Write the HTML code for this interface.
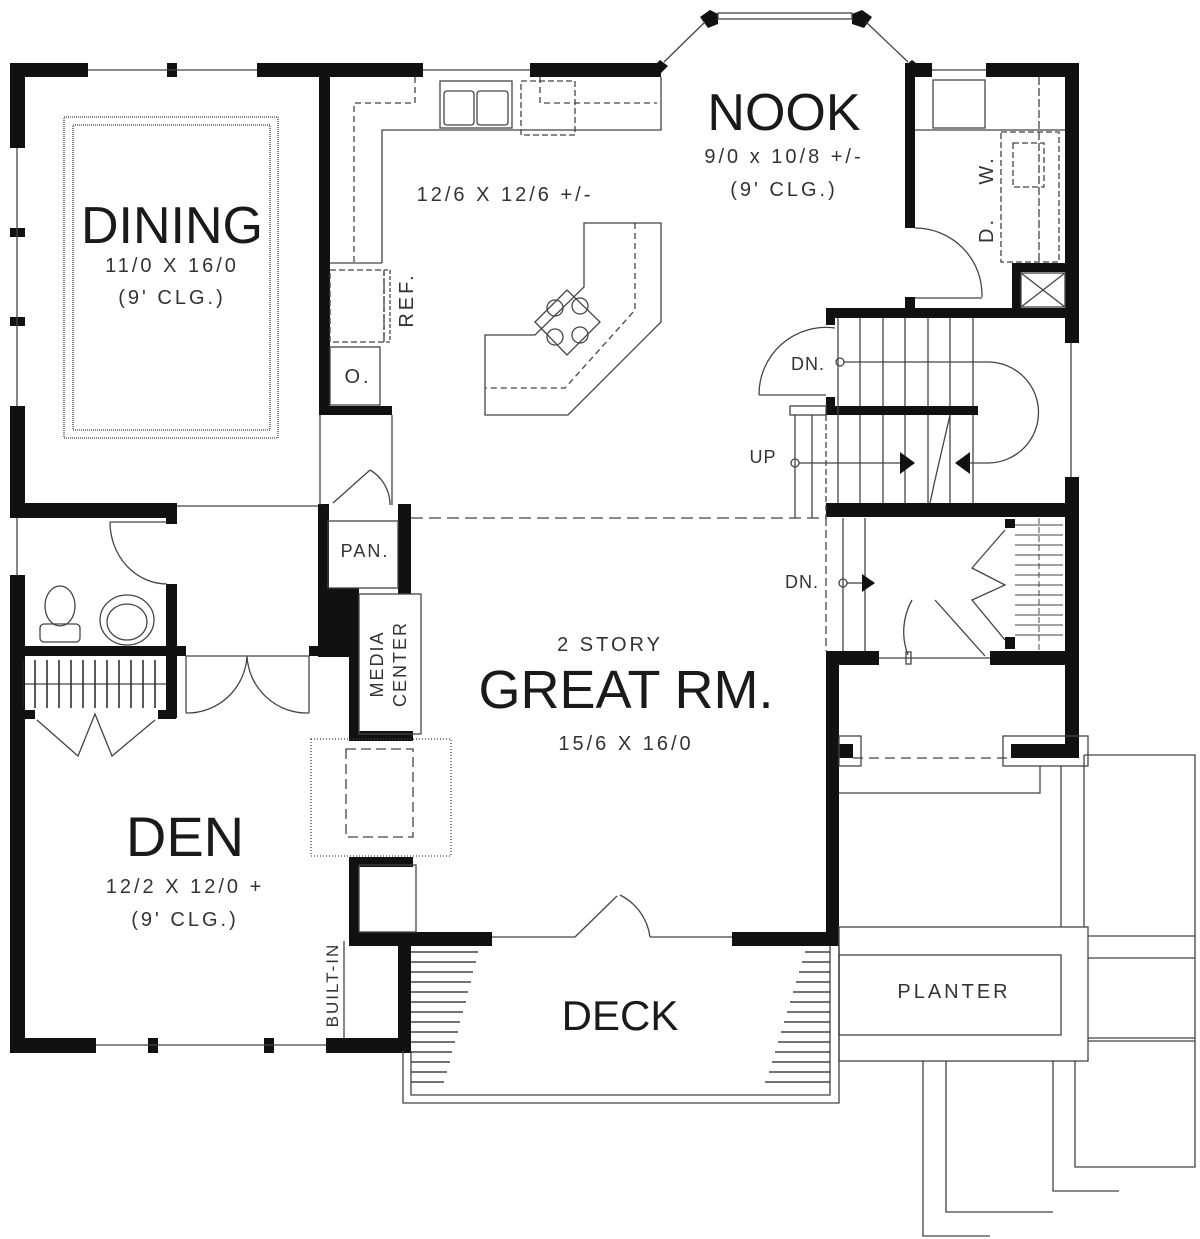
<!DOCTYPE html>
<html><head><meta charset="utf-8"><style>
html,body{margin:0;padding:0;background:#fff;}
svg{display:block}
text{font-family:"Liberation Sans",sans-serif;fill:#1a1a1a}
.s{font-size:20px;letter-spacing:3px;fill:#333}
.b{font-size:52px}
</style></head><body>
<svg width="1200" height="1239" viewBox="0 0 1200 1239" xmlns="http://www.w3.org/2000/svg">
<g fill="#111">
<!-- dining walls -->
<rect x="10" y="63" width="78" height="14"/><rect x="167" y="63" width="10" height="14"/>
<rect x="257" y="63" width="166" height="14"/><rect x="530" y="63" width="131" height="14"/>
<rect x="10" y="63" width="15" height="85"/><rect x="10" y="228" width="15" height="9"/><rect x="10" y="317" width="15" height="9"/>
<rect x="10" y="406" width="15" height="112"/>
<rect x="319" y="77" width="11" height="338"/><rect x="319" y="406" width="73" height="9"/>
<!-- nook -->
<polygon points="700,17 710,10 718,14 718,24 708,28"/><polygon points="852,14 862,10 872,17 864,28 852,24"/>
<polygon points="654,66 660,60 668,66 660,74"/><polygon points="905,66 912,60 920,66"/>
<rect x="905" y="63" width="27" height="14"/><rect x="905" y="63" width="10" height="165"/>
<rect x="986" y="63" width="93" height="14"/><rect x="1065" y="63" width="14" height="280"/>
<rect x="1012" y="263" width="9" height="50"/><rect x="1012" y="263" width="53" height="9"/>
<rect x="826" y="308" width="253" height="10"/><rect x="826" y="308" width="9" height="17"/>
<rect x="905" y="297" width="10" height="12"/>
<rect x="826" y="397" width="9" height="18"/><rect x="826" y="406" width="152" height="9"/>
<rect x="826" y="503" width="253" height="14"/><rect x="1065" y="477" width="14" height="281"/>
<rect x="826" y="651" width="53" height="14"/><rect x="990" y="651" width="89" height="14"/>
<rect x="1005" y="519" width="10" height="9"/><rect x="1005" y="637" width="10" height="12"/>
<rect x="826" y="651" width="13" height="295"/><rect x="732" y="932" width="107" height="14"/>
<rect x="839" y="744" width="14" height="14"/><rect x="1011" y="744" width="68" height="14"/>
<!-- den/bath -->
<rect x="10" y="503" width="167" height="15"/><rect x="166" y="503" width="11" height="21"/>
<rect x="10" y="575" width="15" height="478"/><rect x="10" y="646" width="176" height="10"/>
<rect x="166" y="584" width="11" height="134"/><rect x="25" y="710" width="10" height="9"/><rect x="158" y="710" width="18" height="9"/>
<rect x="10" y="1038" width="86" height="15"/><rect x="148" y="1038" width="10" height="15"/><rect x="264" y="1038" width="10" height="15"/>
<rect x="326" y="1038" width="85" height="15"/><rect x="398" y="946" width="13" height="105"/>
<rect x="309" y="646" width="40" height="10"/>
<rect x="318" y="504" width="11" height="153"/><polygon points="329,588 359,588 359,657 329,657"/>
<rect x="398" y="504" width="13" height="90"/><rect x="349" y="594" width="10" height="146"/>
<rect x="349" y="731" width="64" height="10"/><rect x="349" y="857" width="64" height="10"/>
<rect x="349" y="865" width="10" height="81"/><rect x="349" y="932" width="143" height="14"/>
</g>
<g fill="none" stroke="#444" stroke-width="1.3">
<!-- windows -->
<line x1="88" y1="70" x2="257" y2="70"/><line x1="423" y1="70" x2="530" y2="70"/><line x1="932" y1="70" x2="986" y2="70"/>
<line x1="17" y1="148" x2="17" y2="406"/><line x1="17" y1="518" x2="17" y2="575"/>
<line x1="96" y1="1045" x2="326" y2="1045"/>
<line x1="664" y1="62" x2="705" y2="22"/><line x1="908" y1="62" x2="866" y2="22"/>
<rect x="718" y="13" width="134" height="6"/>
<!-- dining tray -->
<rect x="64" y="117" width="214" height="321" stroke-dasharray="1 1"/><rect x="73" y="125" width="197" height="305" stroke-dasharray="1 1"/>
<!-- kitchen -->
<polyline points="415,77 415,103 354,103 354,263" stroke-dasharray="6 4"/>
<polyline points="540,77 540,103 657,103" stroke-dasharray="6 4"/>
<polyline points="382,263 382,130 661,130 661,77"/>
<line x1="330" y1="263" x2="382" y2="263"/>
<rect x="440" y="81" width="72" height="47"/><rect x="444" y="91" width="30" height="34" rx="3"/><rect x="477" y="91" width="31" height="34" rx="3"/>
<rect x="521" y="81" width="54" height="54" stroke-dasharray="6 3"/>
<rect x="330" y="270" width="54" height="72" stroke-dasharray="6 3"/><rect x="384" y="270" width="6" height="72" stroke-dasharray="4 2"/>
<rect x="330" y="347" width="50" height="58"/>
<polygon points="584,223 661,223 661,322 568,415 485,415 485,335 535,335 584,287"/>
<polyline points="635,223 635,310 565,388 485,388" stroke-dasharray="6 4"/>
<polygon points="535,322 567,290 600,322 567,355"/>
<circle cx="555" cy="308" r="8"/><circle cx="580" cy="306" r="8"/><circle cx="555" cy="337" r="8"/><circle cx="580" cy="335" r="8"/>
<line x1="392" y1="415" x2="392" y2="505"/><line x1="320" y1="415" x2="320" y2="505"/>
<line x1="177" y1="506" x2="318" y2="506"/>
<!-- nook utility -->
<rect x="933" y="80" width="52" height="48"/><line x1="915" y1="130" x2="1065" y2="130"/>
<rect x="1001" y="132" width="58" height="130" stroke-dasharray="6 3"/><line x1="1039" y1="77" x2="1039" y2="262" stroke-dasharray="8 3"/>
<rect x="1013" y="143" width="31" height="44" stroke-dasharray="6 3"/>
<rect x="1021" y="273" width="44" height="34"/><line x1="1021" y1="273" x2="1065" y2="307"/><line x1="1065" y1="273" x2="1021" y2="307"/>
<path d="M915,228 A67,67 0 0 1 982,297"/><line x1="915" y1="298" x2="982" y2="298"/>
<!-- stairs -->
<path d="M835,328 A67,67 0 0 0 759,395"/><line x1="759" y1="395" x2="826" y2="395"/>
<g><line x1="838" y1="318" x2="838" y2="503"/><line x1="860" y1="318" x2="860" y2="406"/><line x1="883" y1="318" x2="883" y2="406"/><line x1="905" y1="318" x2="905" y2="406"/><line x1="928" y1="318" x2="928" y2="406"/><line x1="950" y1="318" x2="950" y2="406"/><line x1="973" y1="318" x2="973" y2="406"/>
<line x1="860" y1="415" x2="860" y2="503"/><line x1="883" y1="415" x2="883" y2="503"/><line x1="905" y1="415" x2="905" y2="503"/><line x1="928" y1="415" x2="928" y2="503"/><line x1="950" y1="415" x2="950" y2="503"/><line x1="973" y1="415" x2="973" y2="503"/>
<line x1="795" y1="415" x2="795" y2="518"/><line x1="812" y1="415" x2="812" y2="518"/><rect x="790" y="406" width="36" height="9"/>
<line x1="826" y1="415" x2="826" y2="518" stroke-dasharray="6 3"/>
<line x1="1071" y1="343" x2="1071" y2="477"/>
<polyline points="950,415 935,480 930,503"/></g>
<circle cx="840" cy="362" r="4"/><path d="M844,362 H988 A50,50 0 0 1 988,463 H965"/>
<circle cx="795" cy="463" r="4"/><line x1="799" y1="463" x2="905" y2="463"/>
<line x1="411" y1="518" x2="826" y2="518" stroke-dasharray="12 6"/>
<line x1="826" y1="518" x2="826" y2="651" stroke-dasharray="8 4"/>
<line x1="843" y1="518" x2="843" y2="651"/><line x1="865" y1="518" x2="865" y2="651"/>
<circle cx="843" cy="583" r="4"/><line x1="847" y1="583" x2="862" y2="583"/>
<!-- closet -->
<g stroke-width="1"><line x1="1015" y1="525" x2="1063" y2="525"/><line x1="1015" y1="535" x2="1063" y2="535"/><line x1="1015" y1="545" x2="1063" y2="545"/><line x1="1015" y1="555" x2="1063" y2="555"/><line x1="1015" y1="565" x2="1063" y2="565"/><line x1="1015" y1="575" x2="1063" y2="575"/><line x1="1015" y1="585" x2="1063" y2="585"/><line x1="1015" y1="595" x2="1063" y2="595"/><line x1="1015" y1="605" x2="1063" y2="605"/><line x1="1015" y1="615" x2="1063" y2="615"/><line x1="1015" y1="625" x2="1063" y2="625"/><line x1="1015" y1="635" x2="1063" y2="635"/><line x1="1039" y1="518" x2="1039" y2="651" stroke-dasharray="6 3"/></g>
<polyline points="1005,530 972,568 1005,585 972,600 1005,640"/>
<path d="M912,600 A65,65 0 0 0 908,655"/><line x1="935" y1="600" x2="985" y2="656"/>
<line x1="879" y1="658" x2="990" y2="658"/><rect x="906" y="652" width="5" height="12"/>
<!-- annex & exterior -->
<line x1="853" y1="758" x2="1011" y2="758" stroke-dasharray="10 6"/>
<rect x="839" y="736" width="22" height="30"/><rect x="1003" y="736" width="85" height="30"/>
<polyline points="839,793 1040,793 1040,766"/>
<line x1="1061" y1="766" x2="1061" y2="927"/><line x1="1084" y1="755" x2="1084" y2="927"/>
<polyline points="1084,755 1195,755 1195,1167 1075,1167 1075,1061"/>
<rect x="839" y="927" width="249" height="134"/><rect x="839" y="955" width="222" height="80"/>
<line x1="1088" y1="936" x2="1195" y2="936"/><line x1="1088" y1="958" x2="1195" y2="958"/><line x1="1088" y1="1038" x2="1195" y2="1038"/><line x1="1088" y1="1041" x2="1195" y2="1041"/>
<polyline points="923,1061 923,1236 990,1236"/><polyline points="946,1061 946,1212 1053,1212"/><polyline points="1053,1061 1053,1191 1119,1191"/>
<!-- deck -->
<polyline points="403,1051 403,1103 839,1103 839,946"/><polyline points="411,1051 411,1095 830,1095 830,946"/>
<line x1="492" y1="937" x2="575" y2="937"/><line x1="650" y1="937" x2="732" y2="937"/>
<line x1="575" y1="937" x2="617" y2="896"/><path d="M620,895 A55,55 0 0 1 650,937"/>
<!-- den/bath fixtures -->
<path d="M110,522 H167 M110,522 A57,62 0 0 0 167,584"/>
<ellipse cx="60" cy="606" rx="15" ry="20"/><rect x="40" y="624" width="40" height="18" rx="4"/>
<ellipse cx="127" cy="620" rx="27" ry="25"/><ellipse cx="127" cy="622" rx="20" ry="18"/>
<line x1="186" y1="656" x2="186" y2="713"/><line x1="309" y1="656" x2="309" y2="713"/>
<path d="M186,713 A60,60 0 0 0 247,656 A60,60 0 0 0 309,713"/><line x1="186" y1="656" x2="309" y2="656"/>
<polyline points="37,720 78,756 95,714 112,756 155,720"/>
<line x1="25" y1="684" x2="166" y2="684"/>
<rect x="328" y="521" width="70" height="67"/><rect x="359" y="594" width="62" height="140"/>
<rect x="311" y="739" width="140" height="117" stroke-dasharray="1 2"/>
<rect x="346" y="749" width="67" height="88" stroke-dasharray="10 5"/>
<rect x="359" y="865" width="57" height="67"/><line x1="344" y1="941" x2="344" y2="1038"/>
<path d="M333,503 L370,470 M370,470 A40,40 0 0 1 390,505"/>
</g>
<g stroke="#222" stroke-width="1.5">
<line x1="23" y1="660" x2="23" y2="708"/><line x1="35" y1="660" x2="35" y2="708"/><line x1="47" y1="660" x2="47" y2="708"/><line x1="59" y1="660" x2="59" y2="708"/><line x1="71" y1="660" x2="71" y2="708"/><line x1="83" y1="660" x2="83" y2="708"/><line x1="95" y1="660" x2="95" y2="708"/><line x1="107" y1="660" x2="107" y2="708"/><line x1="119" y1="660" x2="119" y2="708"/><line x1="131" y1="660" x2="131" y2="708"/><line x1="143" y1="660" x2="143" y2="708"/><line x1="155" y1="660" x2="155" y2="708"/>
</g>
<g stroke="#222" stroke-width="1.3">
<line x1="411" y1="952" x2="478" y2="952"/><line x1="411" y1="962" x2="476" y2="962"/><line x1="411" y1="972" x2="473" y2="972"/><line x1="411" y1="982" x2="471" y2="982"/><line x1="411" y1="992" x2="468" y2="992"/><line x1="411" y1="1002" x2="466" y2="1002"/><line x1="411" y1="1012" x2="463" y2="1012"/><line x1="411" y1="1022" x2="460" y2="1022"/><line x1="411" y1="1032" x2="458" y2="1032"/><line x1="411" y1="1042" x2="455" y2="1042"/><line x1="411" y1="1052" x2="452" y2="1052"/><line x1="411" y1="1062" x2="450" y2="1062"/><line x1="411" y1="1072" x2="447" y2="1072"/><line x1="411" y1="1082" x2="444" y2="1082"/>
<line x1="805" y1="952" x2="830" y2="952"/><line x1="802" y1="962" x2="830" y2="962"/><line x1="799" y1="972" x2="830" y2="972"/><line x1="796" y1="982" x2="830" y2="982"/><line x1="793" y1="992" x2="830" y2="992"/><line x1="790" y1="1002" x2="830" y2="1002"/><line x1="787" y1="1012" x2="830" y2="1012"/><line x1="784" y1="1022" x2="830" y2="1022"/><line x1="781" y1="1032" x2="830" y2="1032"/><line x1="778" y1="1042" x2="830" y2="1042"/><line x1="775" y1="1052" x2="830" y2="1052"/><line x1="772" y1="1062" x2="830" y2="1062"/><line x1="769" y1="1072" x2="830" y2="1072"/><line x1="765" y1="1082" x2="830" y2="1082"/>
</g>
<g fill="#111"><polygon points="900,452 915,463 900,474"/><polygon points="970,452 955,463 970,474"/><polygon points="862,574 875,583 862,592"/></g>
<!-- labels -->
<text class="b" x="172" y="243" text-anchor="middle">DINING</text>
<text class="s" x="172" y="272" text-anchor="middle">11/0 X 16/0</text>
<text class="s" x="172" y="304" text-anchor="middle">(9' CLG.)</text>
<text class="s" x="505" y="201" text-anchor="middle">12/6 X 12/6 +/-</text>
<text class="b" x="784" y="130" text-anchor="middle">NOOK</text>
<text class="s" x="784" y="163" text-anchor="middle">9/0 x 10/8 +/-</text>
<text class="s" x="784" y="196" text-anchor="middle">(9' CLG.)</text>
<text class="s" x="413" y="300" transform="rotate(-90 413 300)" text-anchor="middle">REF.</text>
<text class="s" x="358" y="383" text-anchor="middle">O.</text>
<text class="s" x="993" y="170" transform="rotate(-90 993 170)" text-anchor="middle">W.</text>
<text class="s" x="993" y="230" transform="rotate(-90 993 230)" text-anchor="middle">D.</text>
<text class="s" x="808" y="370" text-anchor="middle" style="font-size:18px;letter-spacing:1px">DN.</text>
<text class="s" x="763" y="463" text-anchor="middle" style="font-size:18px;letter-spacing:1px">UP</text>
<text class="s" x="802" y="588" text-anchor="middle" style="font-size:18px;letter-spacing:1px">DN.</text>
<text class="s" x="365" y="557" text-anchor="middle" style="font-size:18px;letter-spacing:2px">PAN.</text>
<text class="s" x="383" y="664" transform="rotate(-90 383 664)" text-anchor="middle" style="font-size:18px;letter-spacing:2px">MEDIA</text>
<text class="s" x="406" y="664" transform="rotate(-90 406 664)" text-anchor="middle" style="font-size:18px;letter-spacing:2px">CENTER</text>
<text class="s" x="610" y="651" text-anchor="middle">2 STORY</text>
<text x="626" y="708" text-anchor="middle" style="font-size:54px">GREAT RM.</text>
<text class="s" x="626" y="750" text-anchor="middle">15/6 X 16/0</text>
<text x="185" y="856" text-anchor="middle" style="font-size:56px">DEN</text>
<text class="s" x="185" y="893" text-anchor="middle">12/2 X 12/0 +</text>
<text class="s" x="185" y="926" text-anchor="middle">(9' CLG.)</text>
<text class="s" x="338" y="985" transform="rotate(-90 338 985)" text-anchor="middle" style="font-size:17px;letter-spacing:2px">BUILT-IN</text>
<text x="620" y="1030" text-anchor="middle" style="font-size:42px">DECK</text>
<text class="s" x="954" y="998" text-anchor="middle">PLANTER</text>
</svg>
</body></html>
